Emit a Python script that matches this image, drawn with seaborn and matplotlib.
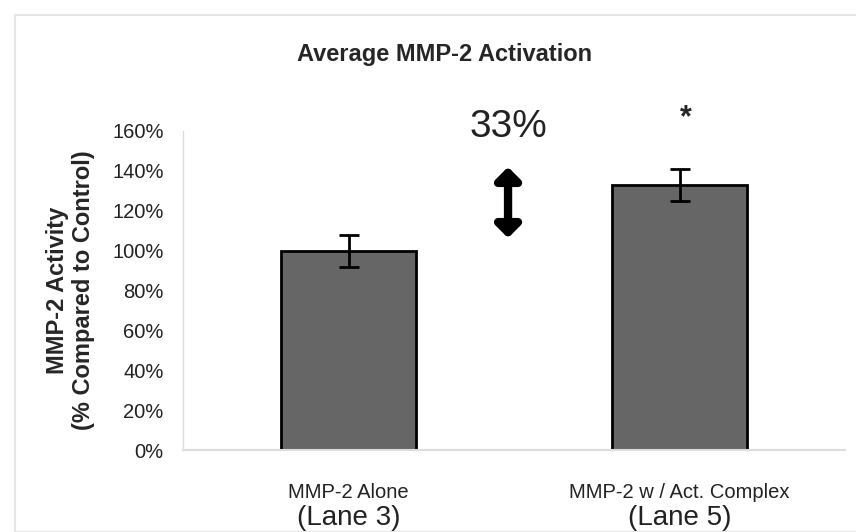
import matplotlib
matplotlib.use("Agg")
import matplotlib.pyplot as plt
import seaborn as sns
import pandas as pd
from matplotlib.patches import Rectangle

cat_line1 = ["MMP-2 Alone", "MMP-2 w / Act. Complex"]
cat_line2 = ["(Lane 3)", "(Lane 5)"]
values = [100, 133]
errors = [8, 8]
yticks = [0, 20, 40, 60, 80, 100, 120, 140, 160]

sns.set_theme(style="white")
plt.rcParams['font.family'] = ['Liberation Sans', 'DejaVu Sans']

fig = plt.figure(figsize=(8.56, 5.32), dpi=100)
fig.patches.append(Rectangle((15/856, 0), 1, 1 - 15/532, transform=fig.transFigure,
                             fill=False, edgecolor="#e6e6e6", lw=1.5, zorder=0))
ax = fig.add_axes([183/856, 1 - 450/532, (845 - 183)/856, (450 - 131)/532])

df = pd.DataFrame({"cat": cat_line1, "val": values})
sns.barplot(data=df, x="cat", y="val", ax=ax, color="#666666", width=0.41,
            edgecolor="black", linewidth=2, saturation=1)
ax.errorbar(range(len(values)), values, yerr=errors, fmt="none", ecolor="black",
            elinewidth=2, capsize=7, capthick=2)

ax.set_xlim(-0.5, 1.5)
ax.set_ylim(0, 160)
ax.set_yticks(yticks)
ax.set_yticklabels([f"{t}%" for t in yticks], fontsize=14.5, color="#222222")
ax.set_xticks([0, 1])
ax.set_xticklabels([""] * 2)
ax.tick_params(axis="both", length=0, pad=14)
ax.set_xlabel("")
ax.set_ylabel("MMP-2 Activity\n(% Compared to Control)", fontsize=17,
              fontweight="bold", labelpad=12, linespacing=1.2)

for s in ["top", "right"]:
    ax.spines[s].set_visible(False)
ax.spines["left"].set_color("#dddddd")
ax.spines["bottom"].set_color("#dddddd")
ax.spines["left"].set_linewidth(1)
ax.spines["bottom"].set_linewidth(1.5)

for i, (l1, l2) in enumerate(zip(cat_line1, cat_line2)):
    ax.text(i, -(492 - 450)/319, l1, transform=ax.get_xaxis_transform(), ha="center",
            va="center", fontsize=14.5, color="#222222")
    ax.text(i, -(518 - 450)/319, l2, transform=ax.get_xaxis_transform(), ha="center",
            va="center", fontsize=20, color="#222222")

fig.text(445/856, 1 - 55/532, "Average MMP-2 Activation", ha="center", va="center",
         fontsize=17, fontweight="bold")

ax.text(0.482, (450 - 127)/319, "33%", transform=ax.get_xaxis_transform(),
        ha="center", va="center", fontsize=28, color="#222222")
ax.text(1.02, (450 - 118)/319, "*", transform=ax.get_xaxis_transform(),
        ha="center", va="center", fontsize=22, fontweight="bold")
ax.annotate("", xy=(0.482, (450 - 238)/319), xytext=(0.482, (450 - 167)/319),
            xycoords=ax.get_xaxis_transform(), textcoords=ax.get_xaxis_transform(),
            arrowprops=dict(arrowstyle="<|-|>,head_length=0.6,head_width=0.6",
                            lw=6, color="black", shrinkA=0, shrinkB=0))

fig.savefig("out.png", dpi=100)
